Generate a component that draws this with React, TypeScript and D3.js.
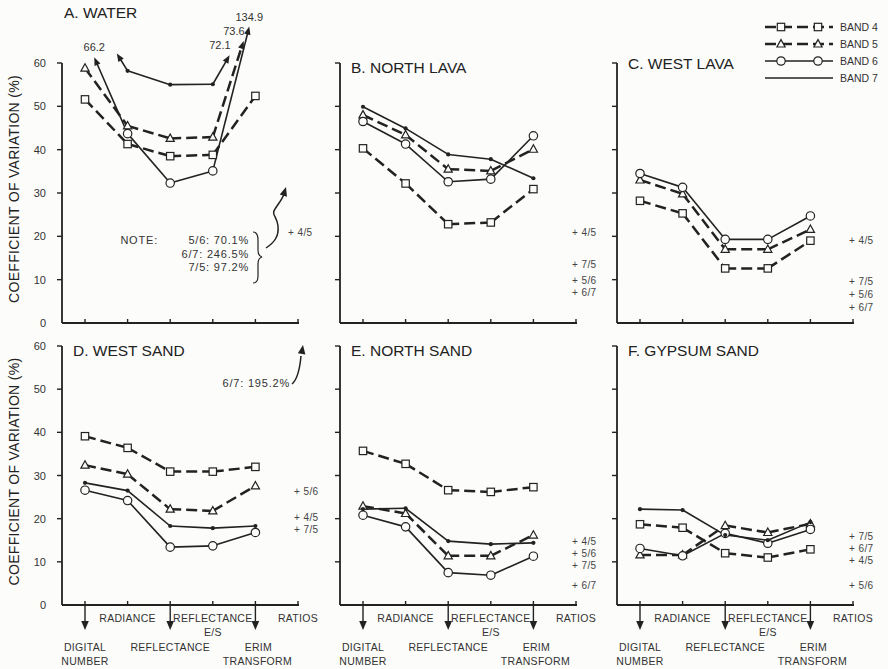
import React, { useEffect, useRef } from 'react';
import * as d3 from 'd3';

// processing steps along the x axis (last one only carries the ratio labels)
const categories = ['Digital Number', 'Radiance', 'Reflectance', 'Reflectance E/S', 'ERIM Transform', 'Ratios'];
const yTicks = [0, 10, 20, 30, 40, 50, 60];

// coefficient of variation (%) per band, one value per processing step
const waterBand4 = [51.6, 41.3, 38.5, 38.8, 52.4];
const waterBand5 = [58.8, 45.5, 42.6, 42.9, 73.6];
const waterBand6 = [66.2, 43.7, 32.3, 35.1, 134.9];
const waterBand7 = [78, 58.2, 55.0, 55.1, 72.1];

const northLavaBand4 = [40.3, 32.2, 22.8, 23.2, 30.9];
const northLavaBand5 = [48.0, 43.4, 35.5, 35.1, 40.1];
const northLavaBand6 = [46.5, 41.3, 32.6, 33.2, 43.2];
const northLavaBand7 = [49.9, 44.9, 38.9, 37.8, 33.4];

const westLavaBand4 = [28.2, 25.3, 12.6, 12.6, 19.0];
const westLavaBand5 = [33.0, 29.8, 17.0, 17.0, 21.6];
const westLavaBand6 = [34.5, 31.3, 19.3, 19.3, 24.7];

const westSandBand4 = [39.1, 36.4, 30.9, 30.9, 32.0];
const westSandBand5 = [32.4, 30.3, 22.2, 21.8, 27.6];
const westSandBand6 = [26.6, 24.2, 13.4, 13.7, 16.8];
const westSandBand7 = [28.3, 26.5, 18.3, 17.8, 18.3];

const northSandBand4 = [35.7, 32.7, 26.6, 26.2, 27.3];
const northSandBand5 = [22.9, 21.2, 11.4, 11.4, 16.2];
const northSandBand6 = [20.8, 18.1, 7.5, 6.9, 11.3];
const northSandBand7 = [22.2, 22.4, 14.8, 14.1, 14.4];

const gypsumBand4 = [18.7, 17.9, 12.0, 11.0, 12.9];
const gypsumBand5 = [11.6, 11.6, 18.4, 16.8, 18.8];
const gypsumBand6 = [13.1, 11.4, 16.6, 14.3, 17.5];
const gypsumBand7 = [22.2, 22.0, 16.2, 15.0, 19.2];

// band ratio values (%) shown at the RATIOS position
const waterRatios = [{ r: '4/5', v: 20.8 }];
const northLavaRatios = [{ r: '4/5', v: 20.8 }, { r: '7/5', v: 13.5 }, { r: '5/6', v: 9.7 }, { r: '6/7', v: 7.0 }];
const westLavaRatios = [{ r: '4/5', v: 19.0 }, { r: '7/5', v: 9.5 }, { r: '5/6', v: 6.6 }, { r: '6/7', v: 3.6 }];
const westSandRatios = [{ r: '5/6', v: 26.2 }, { r: '4/5', v: 20.3 }, { r: '7/5', v: 17.6 }];
const northSandRatios = [{ r: '4/5', v: 14.6 }, { r: '5/6', v: 12.0 }, { r: '7/5', v: 9.1 }, { r: '6/7', v: 4.6 }];
const gypsumRatios = [{ r: '7/5', v: 15.9 }, { r: '6/7', v: 13.1 }, { r: '4/5', v: 10.2 }, { r: '5/6', v: 4.6 }];

// off-scale values: arrow drawn up to "reach" (%), labelled with the true value
const overflowArrows = [
  { panel: 'A', band: 6, cat: 0, label: '66.2', reach: 61.3, anchor: 'middle' },
  { panel: 'A', band: 7, cat: 0, label: '', reach: 62.2, anchor: 'middle' },
  { panel: 'A', band: 7, cat: 4, label: '72.1', reach: 61.8, anchor: 'end' },
  { panel: 'A', band: 5, cat: 4, label: '73.6', reach: 65.1, anchor: 'end' },
  { panel: 'A', band: 6, cat: 4, label: '134.9', reach: 68.4, anchor: 'middle' },
];

const waterNote = ['5/6: 70.1%', '6/7: 246.5%', '7/5: 97.2%'];
const westSandNote = '6/7: 195.2%';

const panels = [
  { id: 'A', title: 'A. WATER', col: 0, row: 0, bands: { 4: waterBand4, 5: waterBand5, 6: waterBand6, 7: waterBand7 }, ratios: waterRatios },
  { id: 'B', title: 'B. NORTH LAVA', col: 1, row: 0, bands: { 4: northLavaBand4, 5: northLavaBand5, 6: northLavaBand6, 7: northLavaBand7 }, ratios: northLavaRatios },
  { id: 'C', title: 'C. WEST LAVA', col: 2, row: 0, bands: { 4: westLavaBand4, 5: westLavaBand5, 6: westLavaBand6 }, ratios: westLavaRatios },
  { id: 'D', title: 'D. WEST SAND', col: 0, row: 1, bands: { 4: westSandBand4, 5: westSandBand5, 6: westSandBand6, 7: westSandBand7 }, ratios: westSandRatios },
  { id: 'E', title: 'E. NORTH SAND', col: 1, row: 1, bands: { 4: northSandBand4, 5: northSandBand5, 6: northSandBand6, 7: northSandBand7 }, ratios: northSandRatios },
  { id: 'F', title: 'F. GYPSUM SAND', col: 2, row: 1, bands: { 4: gypsumBand4, 5: gypsumBand5, 6: gypsumBand6, 7: gypsumBand7 }, ratios: gypsumRatios },
];

const INK = '#222';
const BG = '#fcfcfa';
const FONT = '"Liberation Sans", Arial, Helvetica, sans-serif';

const colX = [62, 340, 617];
const rowY = [{ y0: 323, y60: 63 }, { y0: 605, y60: 346 }];

const bandStyle = {
  4: { dash: '11,5', width: 2.5, marker: 'square' },
  5: { dash: '11,5', width: 2.5, marker: 'triangle' },
  6: { dash: null, width: 1.6, marker: 'circle' },
  7: { dash: null, width: 1.6, marker: 'dot' },
};

function drawMarker(g, kind, x, y) {
  if (kind === 'square') {
    g.append('rect').attr('x', x - 3.7).attr('y', y - 3.7).attr('width', 7.4).attr('height', 7.4)
      .attr('fill', BG).attr('stroke', INK).attr('stroke-width', 1.2);
  } else if (kind === 'triangle') {
    g.append('path').attr('d', `M${x},${y - 4.4}L${x + 4.1},${y + 3}L${x - 4.1},${y + 3}Z`)
      .attr('fill', BG).attr('stroke', INK).attr('stroke-width', 1.2);
  } else if (kind === 'circle') {
    g.append('circle').attr('cx', x).attr('cy', y).attr('r', 4.2)
      .attr('fill', BG).attr('stroke', INK).attr('stroke-width', 1.2);
  } else {
    g.append('circle').attr('cx', x).attr('cy', y).attr('r', 2.1).attr('fill', INK);
  }
}

function arrowHead(g, x1, y1, x2, y2, len = 7, half = 3) {
  const a = Math.atan2(y2 - y1, x2 - x1);
  const bx = x2 - Math.cos(a) * len, by = y2 - Math.sin(a) * len;
  const px = -Math.sin(a) * half, py = Math.cos(a) * half;
  g.append('path').attr('d', `M${x2},${y2}L${bx + px},${by + py}L${bx - px},${by - py}Z`).attr('fill', INK);
}

export default function App() {
  const ref = useRef(null);

  useEffect(() => {
    const svg = d3.select(ref.current);
    svg.selectAll('*').remove();
    svg.append('rect').attr('width', 888).attr('height', 669).attr('fill', BG);

    panels.forEach(p => {
      const x0 = colX[p.col];
      const { y0, y60 } = rowY[p.row];
      const x = d3.scalePoint().domain(categories).range([x0 + 23, x0 + 236]);
      const y = d3.scaleLinear().domain([0, 60]).range([y0, y60]);
      const g = svg.append('g');

      // axes
      g.append('line').attr('x1', x0).attr('x2', x0).attr('y1', y(0)).attr('y2', y(60))
        .attr('stroke', INK).attr('stroke-width', 1.8);
      g.append('line').attr('x1', x0).attr('x2', x('Ratios') + 1).attr('y1', y(0)).attr('y2', y(0))
        .attr('stroke', INK).attr('stroke-width', 1.8);
      yTicks.forEach(t => {
        if (t > 0) {
          g.append('line').attr('x1', x0 - 5).attr('x2', x0).attr('y1', y(t)).attr('y2', y(t))
            .attr('stroke', INK).attr('stroke-width', 1.4);
        }
        if (p.col === 0) {
          g.append('text').attr('x', x0 - 16).attr('y', y(t) + 4).attr('text-anchor', 'end')
            .attr('font-size', 11).attr('fill', '#333').text(t);
        }
      });
      categories.forEach(c => {
        g.append('line').attr('x1', x(c)).attr('x2', x(c)).attr('y1', y(0)).attr('y2', y(0) - 4)
          .attr('stroke', INK).attr('stroke-width', 1.4);
      });

      if (p.row === 1) {
        [0, 2, 4].forEach(i => {
          const cx = x(categories[i]);
          g.append('line').attr('x1', cx).attr('x2', cx).attr('y1', y(0)).attr('y2', y(0) + 18)
            .attr('stroke', INK).attr('stroke-width', 1.4);
          arrowHead(g, cx, y(0), cx, y(0) + 25, 9, 3.8);
        });
        const lab = (cx, cy, s) => g.append('text').attr('x', cx).attr('y', cy).attr('text-anchor', 'middle')
          .attr('font-size', 10.5).attr('letter-spacing', 0.3).attr('fill', '#333').text(s);
        lab(x('Radiance'), y(0) + 17, 'RADIANCE');
        lab(x('Reflectance E/S'), y(0) + 17, 'REFLECTANCE');
        lab(x('Reflectance E/S'), y(0) + 31, 'E/S');
        lab(x('Ratios'), y(0) + 17, 'RATIOS');
        lab(x('Digital Number'), y(0) + 46, 'DIGITAL');
        lab(x('Digital Number'), y(0) + 60, 'NUMBER');
        lab(x('Reflectance'), y(0) + 46, 'REFLECTANCE');
        lab(x('ERIM Transform') + 3, y(0) + 46, 'ERIM');
        lab(x('ERIM Transform') + 2, y(0) + 60, 'TRANSFORM');
      }

      // title
      const tx = p.id === 'A' ? x0 + 2 : x0 + 11;
      const ty = p.id === 'A' ? 18 : p.id === 'C' ? 69 : (p.row === 0 ? 73 : 356);
      g.append('text').attr('x', tx).attr('y', ty).attr('font-size', 15.5).attr('fill', INK).text(p.title);

      // series lines
      const lineLayer = g.append('g');
      const markLayer = g.append('g');
      [4, 5, 6, 7].forEach(b => {
        const vals = p.bands[b];
        if (!vals) return;
        const st = bandStyle[b];
        for (let i = 0; i < vals.length - 1; i++) {
          const a = vals[i], c = vals[i + 1];
          if (a <= 60 && c <= 60) {
            lineLayer.append('line')
              .attr('x1', x(categories[i])).attr('y1', y(a))
              .attr('x2', x(categories[i + 1])).attr('y2', y(c))
              .attr('stroke', INK).attr('stroke-width', st.width)
              .attr('stroke-dasharray', st.dash);
          } else {
            const offIdx = a > 60 ? i : i + 1;
            const inIdx = a > 60 ? i + 1 : i;
            const ov = overflowArrows.find(o => o.panel === p.id && o.band === b && o.cat === offIdx);
            if (!ov) continue;
            const px = x(categories[inIdx]), py = y(vals[inIdx]);
            const qx = x(categories[offIdx]), qy = y(Math.min(vals[offIdx], 74));
            const tipY = y(ov.reach);
            const t = (py - tipY) / (py - qy);
            const tipX = px + (qx - px) * t;
            const ang = Math.atan2(tipY - py, tipX - px);
            lineLayer.append('line')
              .attr('x1', px).attr('y1', py)
              .attr('x2', tipX - Math.cos(ang) * 5).attr('y2', tipY - Math.sin(ang) * 5)
              .attr('stroke', INK).attr('stroke-width', st.width)
              .attr('stroke-dasharray', st.dash);
            arrowHead(lineLayer, px, py, tipX, tipY, 8, 3.2);
            if (ov.label) {
              lineLayer.append('text')
                .attr('x', ov.anchor === 'end' ? tipX + 1 : tipX)
                .attr('y', tipY - 6)
                .attr('text-anchor', ov.anchor)
                .attr('font-size', 11).attr('fill', '#333').text(ov.label);
            }
          }
        }
        vals.forEach((v, i) => {
          if (v <= 60) drawMarker(markLayer, st.marker, x(categories[i]), y(v));
        });
      });

      // ratio values
      p.ratios.forEach(d => {
        g.append('text').attr('x', x('Ratios') - (p.id === 'A' ? 10 : 4)).attr('y', y(d.v) + 3.5)
          .attr('font-size', 10).attr('letter-spacing', 0.4).attr('fill', '#444').text('+ ' + d.r);
      });

      if (p.col === 0) {
        g.append('text')
          .attr('transform', `translate(19,${(y(0) + y(60)) / 2 - 4}) rotate(-90)`)
          .attr('text-anchor', 'middle').attr('font-size', 14).attr('letter-spacing', 0.3).attr('fill', INK)
          .text('COEFFICIENT OF VARIATION (%)');
      }
    });

    // note on water panel
    const note = svg.append('g').attr('font-size', 11).attr('letter-spacing', 0.8).attr('fill', '#333');
    note.append('text').attr('x', 158).attr('y', 244).attr('text-anchor', 'end').text('NOTE:');
    waterNote.forEach((s, i) => {
      note.append('text').attr('x', 249).attr('y', 244 + i * 13.5).attr('text-anchor', 'end').text(s);
    });
    svg.append('path')
      .attr('d', 'M253,232 Q258,232 258,240 L258,250 Q258,256 262,257 Q258,258 258,264 L258,276 Q258,283 253,283')
      .attr('fill', 'none').attr('stroke', INK).attr('stroke-width', 1.2);
    svg.append('path')
      .attr('d', 'M266,248 C275,242 279,236 278,226 C277,216 271,215 275,209 C278,204 282,200 284,194')
      .attr('fill', 'none').attr('stroke', INK).attr('stroke-width', 1.5);
    arrowHead(svg, 282, 200, 286, 187, 9, 3.8);

    // note on west sand panel
    svg.append('text').attr('x', 290).attr('y', 387).attr('text-anchor', 'end')
      .attr('font-size', 11).attr('letter-spacing', 0.8).attr('fill', '#333').text(westSandNote);
    svg.append('path').attr('d', 'M292,384 Q299,378 301,356')
      .attr('fill', 'none').attr('stroke', INK).attr('stroke-width', 1.5);
    arrowHead(svg, 301, 358, 303, 345, 9, 3.8);

    // legend
    const leg = svg.append('g');
    [4, 5, 6, 7].forEach((b, i) => {
      const ly = 27 + i * 17;
      const st = bandStyle[b];
      leg.append('line').attr('x1', 765).attr('x2', 833).attr('y1', ly).attr('y2', ly)
        .attr('stroke', INK).attr('stroke-width', st.width).attr('stroke-dasharray', st.dash);
      if (b !== 7) {
        drawMarker(leg, st.marker, 781, ly);
        drawMarker(leg, st.marker, 818, ly);
      }
      leg.append('text').attr('x', 840).attr('y', ly + 4).attr('font-size', 10.5).attr('fill', '#333')
        .text('BAND ' + b);
    });
  }, []);

  return (
    <svg ref={ref} width={888} height={669}
      style={{ position: 'absolute', left: 0, top: 0, fontFamily: FONT }} />
  );
}
